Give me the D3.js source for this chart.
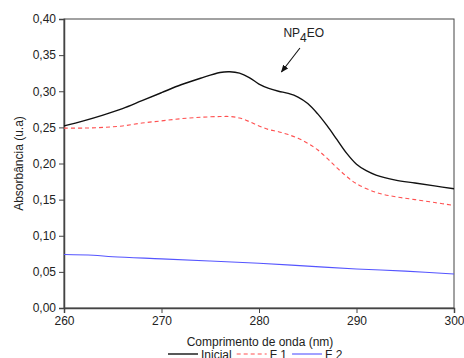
<!DOCTYPE html>
<html>
<head>
<meta charset="utf-8">
<script src="https://cdn.jsdelivr.net/npm/d3@7"></script>
<style>
  body { margin: 0; background: #fff; }
  svg text { font-family: "Liberation Sans", Arial, sans-serif; font-size: 12px; fill: #222; }
</style>
</head>
<body>
<div id="chart"></div>
<script>
// wavelengths (nm) and absorbance
const waveInicial = [260, 262, 264, 266, 268, 270, 272, 274, 276, 277, 278, 279, 280, 281, 282, 283, 284, 285, 286, 287, 288, 289, 290, 291, 292, 294, 296, 298, 300];
const absInicial  = [0.252, 0.259, 0.267, 0.276, 0.287, 0.298, 0.309, 0.318, 0.326, 0.327, 0.325, 0.319, 0.310, 0.304, 0.300, 0.297, 0.292, 0.283, 0.269, 0.252, 0.233, 0.214, 0.199, 0.190, 0.184, 0.177, 0.173, 0.169, 0.165];

const waveF1 = [260, 262, 264, 266, 268, 270, 272, 274, 276, 277, 278, 279, 280, 281, 282, 283, 284, 285, 286, 287, 288, 289, 290, 292, 294, 296, 298, 300];
const absF1  = [0.249, 0.249, 0.250, 0.252, 0.256, 0.259, 0.262, 0.264, 0.265, 0.265, 0.263, 0.258, 0.252, 0.247, 0.244, 0.240, 0.235, 0.228, 0.219, 0.207, 0.194, 0.182, 0.172, 0.160, 0.154, 0.150, 0.146, 0.142];

const waveF2 = [260, 263, 265, 270, 275, 280, 285, 290, 295, 300];
const absF2  = [0.074, 0.073, 0.071, 0.068, 0.065, 0.062, 0.058, 0.054, 0.051, 0.047];

const xTicks = [260, 270, 280, 290, 300];
const yTicks = [0, 0.05, 0.10, 0.15, 0.20, 0.25, 0.30, 0.35, 0.40];

const seriesNames = ["Inicial", "F 1", "F 2"];

const width = 464, height = 358;
const margin = {top: 19, right: 10, bottom: 50, left: 64};
const mainWidth = width - margin.left - margin.right;
const mainHeight = height - margin.top - margin.bottom;

const styles = {
    "Inicial": {stroke: "#111", dash: null, width: 1.4},
    "F 1": {stroke: "#ff5050", dash: "4,3", width: 1.1},
    "F 2": {stroke: "#5555ff", dash: null, width: 1.1}
};

const series = [
    {name: "Inicial", values: waveInicial.map((w, i) => ({w, a: absInicial[i]}))},
    {name: "F 1", values: waveF1.map((w, i) => ({w, a: absF1[i]}))},
    {name: "F 2", values: waveF2.map((w, i) => ({w, a: absF2[i]}))}
];

const svg = d3.select("#chart").append("svg")
    .attr("width", width)
    .attr("height", height);

const defs = svg.append("defs");
defs.append("marker")
    .attr("id", "arrow")
    .attr("viewBox", "0 0 10 10")
    .attr("refX", 9).attr("refY", 5)
    .attr("markerWidth", 7).attr("markerHeight", 7)
    .attr("orient", "auto")
    .append("path")
    .attr("d", "M0,1 L10,5 L0,9 Z")
    .attr("fill", "#111");

const mainChart = svg.append("g")
    .attr("transform", `translate(${margin.left},${margin.top})`);

const x = d3.scaleLinear().domain([260, 300]).range([0, mainWidth]);
const y = d3.scaleLinear().domain([0, 0.40]).range([mainHeight, 0]);

const fmt = d => d3.format(".2f")(d).replace(".", ",");

// frame
mainChart.append("rect")
    .attr("width", mainWidth)
    .attr("height", mainHeight)
    .attr("fill", "none")
    .attr("stroke", "#444")
    .attr("stroke-width", 1);

const xAxis = mainChart.append("g")
    .attr("transform", `translate(0,${mainHeight})`)
    .call(d3.axisBottom(x).tickValues(xTicks).tickSize(5).tickPadding(3).tickFormat(d3.format("d")));

const yAxis = mainChart.append("g")
    .call(d3.axisLeft(y).tickValues(yTicks).tickSize(5).tickPadding(3).tickFormat(fmt));

[xAxis, yAxis].forEach(ax => {
    ax.select(".domain").attr("stroke", "#444").attr("stroke-width", 1.5);
    ax.selectAll(".tick line").attr("stroke", "#444");
    ax.selectAll("text").attr("font-size", 12).attr("fill", "#222")
        .attr("font-family", "Liberation Sans, Arial, sans-serif");
});

const line = d3.line()
    .x(d => x(d.w))
    .y(d => y(d.a))
    .curve(d3.curveCatmullRom.alpha(0.5));

mainChart.selectAll(".series")
    .data(series)
    .join("path")
    .attr("class", "series")
    .attr("d", d => line(d.values))
    .attr("fill", "none")
    .attr("stroke", d => styles[d.name].stroke)
    .attr("stroke-width", d => styles[d.name].width)
    .attr("stroke-dasharray", d => styles[d.name].dash);

// annotation
const note = mainChart.append("text")
    .attr("x", x(282.5))
    .attr("y", 18);
note.append("tspan").text("NP");
note.append("tspan").attr("dy", 5).text("4");
note.append("tspan").attr("dy", -5).text("EO");

mainChart.append("line")
    .attr("x1", x(284.2)).attr("y1", 29)
    .attr("x2", x(282.3)).attr("y2", 53)
    .attr("stroke", "#111")
    .attr("stroke-width", 1.1)
    .attr("marker-end", "url(#arrow)");

// axis titles
svg.append("text")
    .attr("text-anchor", "middle")
    .attr("x", margin.left + mainWidth / 2 + 1)
    .attr("y", 346)
    .text("Comprimento de onda (nm)");

svg.append("text")
    .attr("text-anchor", "middle")
    .attr("transform", `translate(23,${margin.top + mainHeight / 2}) rotate(-90)`)
    .text("Absorbância (u.a)");

// legend along the bottom (cut by the lower edge, as in the source image)
const legend = svg.append("g").attr("transform", "translate(168,354)");
let lx = 0;
seriesNames.forEach(name => {
    const st = styles[name];
    legend.append("line")
        .attr("x1", lx).attr("x2", lx + 30)
        .attr("y1", 0).attr("y2", 0)
        .attr("stroke", st.stroke)
        .attr("stroke-width", st.width)
        .attr("stroke-dasharray", st.dash);
    const t = legend.append("text")
        .attr("x", lx + 33)
        .attr("y", 4.5)
        .text(name);
    lx += 33 + t.node().getComputedTextLength() + 5;
});
</script>
</body>
</html>
